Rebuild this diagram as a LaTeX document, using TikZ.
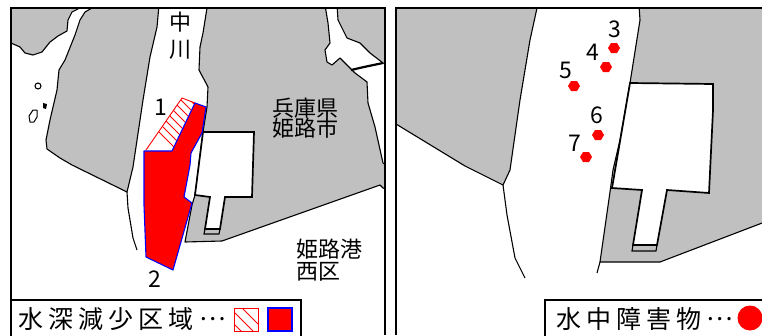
\documentclass[tikz,border=0pt]{standalone}
\usepackage{fontspec}
\setmainfont{Noto Sans CJK JP}
\newfontfamily\spaced[LetterSpace=20]{Noto Sans CJK JP}
\definecolor{land}{RGB}{192,192,192}
\tikzset{
  land/.style={fill=land,draw=black,line width=1.1pt,line join=round},
  bank/.style={draw=black,line width=1.1pt,line join=round},
  heavy/.style={draw=black,line width=2.2pt},
  frame/.style={draw=black,line width=1.3pt},
  pier/.style={fill=white,draw=black,line width=1.7pt,line join=miter},
  strip/.style={fill=land,draw=black,line width=1.1pt},
  lbl/.style={inner sep=0pt,font=\fontsize{22}{22}\selectfont},
  num/.style={inner sep=0pt,font=\fontsize{23}{23}\selectfont},
  legendbox/.style={fill=white,draw=black,line width=1.3pt},
  legendtext/.style={inner sep=0pt,anchor=west,font=\fontsize{25}{25}\selectfont},
  hatchline/.style={draw=red,line width=0.8pt},
  mark red/.style={fill=red,draw=none}
}
\begin{document}
\begin{tikzpicture}[x=1pt,y=-1pt]
\useasboundingbox (0,0) rectangle (762,335);
\fill[white] (0,0) rectangle (762,335);

% ---- left panel
\begin{scope}
\clip (11,8) rectangle (385,335);
\path[land] (5,5) -- (80,5) -- (78,9) -- (72,12) -- (68,20) -- (67,31) -- (58,36) -- (50,42) -- (42,52) -- (33,55) -- (25,53) -- (20,47) -- (11,43) -- (5,43) -- cycle;
\path[land] (94,5) -- (92,8) -- (85,12) -- (80,20) -- (75,35) -- (65,60) -- (59,70) -- (57,90) -- (50,120) -- (46,140) -- (47,149) -- (60,158) -- (72,165) -- (127,192) -- (133,167) -- (143,100) -- (150,57) -- (157,27) -- (159,5) -- cycle;
\path[land] (207,5) -- (207,8) -- (203,33) -- (200,47) -- (199,70) -- (208,87) -- (207,107) -- (203,132) -- (195,195) -- (192,205) -- (185,242) -- (222,241) -- (380,185) -- (383,188) -- (390,190) -- (390,168) -- (383,163) -- (375,127) -- (368,103) -- (367,82) -- (355,73) -- (350,68) -- (340,58) -- (332,65) -- (327,62) -- (325,50) -- (330,43) -- (328,23) -- (325,5) -- cycle;
\path[land] (337,5) -- (338,20) -- (347,38) -- (360,43) -- (370,53) -- (383,63) -- (390,65) -- (390,5) -- cycle;
\path[bank] (127,192) -- (128,208) -- (133,238) -- (137,250);
\path[heavy] (351,70) -- (364,67) -- (383,63);
\path[strip] (205,229) -- (220,229) -- (219,234) -- (204,234) -- cycle;
\path[pier] (203,132) -- (254,132) -- (252,197) -- (225,197) -- (220,229) -- (205,229) -- (210,197) -- (195,195) -- cycle;
\path[bank] (38,86) circle (3);
\path[bank,line width=1pt] (30,122) -- (29,116) -- (33,110) -- (37,110) -- (37,117) -- (34,122) -- cycle;
\path[fill=black] (43,103) -- (47,104) -- (46,109) -- (43,108) -- cycle;

% hatched and solid shoal
\begin{scope}
\clip (146,150) -- (182,98) -- (195,103) -- (172,151) -- cycle;
\foreach \d in {-3,6,15,24,33,42,51,60,69}{
  \path[hatchline] (130+\d,100) -- (190+\d,160);
}
\end{scope}
\path[draw=red,line width=0.9pt] (146,150) -- (182,98) -- (195,103);
\path[fill=red,draw=blue,line width=1.1pt,line join=round] (144,151) -- (172,151) -- (195,103) -- (206,107) -- (202,133) -- (191,153) -- (190,165) -- (184,197) -- (192,203) -- (173,270) -- (146,257) -- (144,205) -- cycle;
\end{scope}

\node[lbl] (naka) at (180,22) {中};
\node[lbl] (kawa) at (180,50) {川};
\node[num] (n1) at (161,107) {1};
\node[num] (n2) at (155,279) {2};
\node[lbl] (t1) at (305,108) {兵庫県};
\node[lbl] (t2) at (305,128) {姫路市};
\node[lbl] (t3) at (329,249) {姫路港};
\node[lbl] (t4) at (318,272) {西区};

\draw[frame] (11,335) -- (11,8) -- (385,8) -- (385,335);
\path[legendbox] (11,335.8) -- (11,300) -- (301,300) -- (301,335.8);
\node[legendtext] (legA) at (18,319) {\spaced 水深減少区域};
\node[legendtext,anchor=center] (dotsA) at (213,319) {⋯};
\begin{scope}
\clip (234,308) rectangle (258,331);
\foreach \d in {-16,-4,8}{
  \path[hatchline] (234+\d,308) -- (258+\d,332);
}
\end{scope}
\path[draw=red,line width=1pt] (234,308) rectangle (258,331);
\path[fill=red,draw=blue,line width=1.1pt] (268,308) rectangle (292,331);

% ---- right panel
\begin{scope}
\clip (396,8) rectangle (762,335);
\path[land] (390,5) -- (538,5) -- (537,8) -- (530,40) -- (520,100) -- (510,170) -- (503,185) -- (465,166) -- (396,124) -- (390,122) -- cycle;
\path[land] (639,5) -- (640,20) -- (630,83) -- (620,140) -- (613,170) -- (610,192) -- (600,262) -- (660,262) -- (770,220) -- (770,5) -- cycle;
\path[bank] (503,185) -- (507,215) -- (515,258) -- (525,278);
\path[bank] (600,262) -- (597,273);
\path[strip] (633,245) -- (657,245) -- (656,251) -- (632,251) -- cycle;
\path[pier] (630,83) -- (713,84) -- (713,110) -- (709,193) -- (667,190) -- (657,245) -- (633,245) -- (642,190) -- (612,188) -- cycle;
\end{scope}

\foreach \nm/\x/\y in {m3/614/48,m4/606/67,m5/574/86,m6/598/135,m7/586/157}{
  \path[mark red] (\x-6,\y) -- (\x-3,\y-5) -- (\x+3,\y-5) -- (\x+6,\y) -- (\x+3,\y+5) -- (\x-3,\y+5) -- cycle;
}
\node[num] (n3) at (615,29) {3};
\node[num] (n4) at (593,52) {4};
\node[num] (n5) at (566,70) {5};
\node[num] (n6) at (597,115) {6};
\node[num] (n7) at (575,143) {7};

\draw[frame] (396,335) -- (396,8) -- (762,8);
\path[legendbox] (545,335.8) -- (545,300) -- (763,300);
\node[legendtext] (legB) at (556,319) {\spaced 水中障害物};
\node[legendtext,anchor=center] (dotsB) at (720,319) {⋯};
\path[fill=red] (750,318) circle (12.5);
\end{tikzpicture}
\end{document}
